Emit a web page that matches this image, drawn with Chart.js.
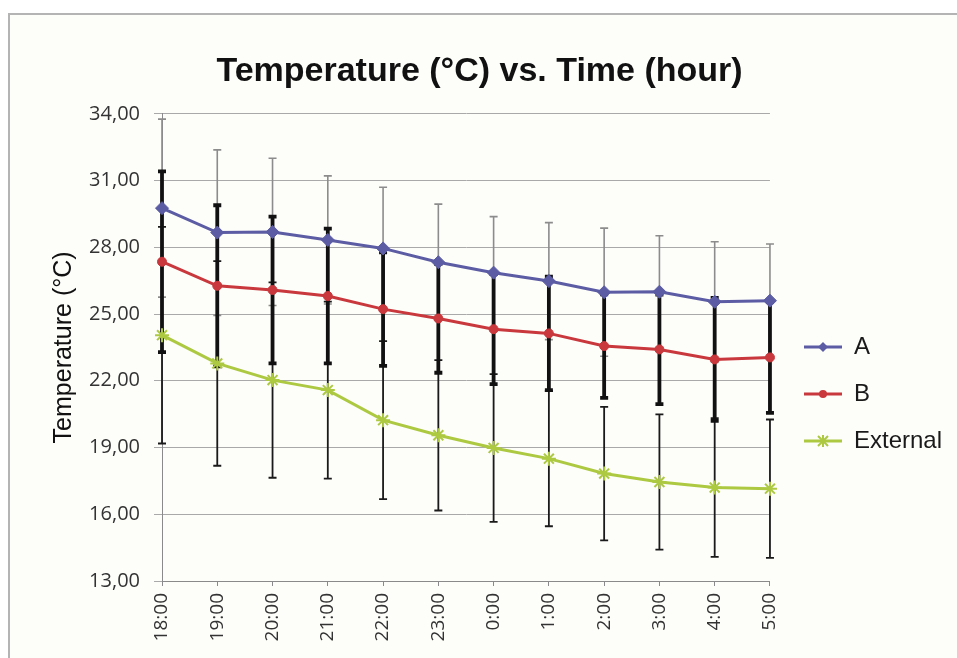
<!DOCTYPE html>
<html>
<head>
<meta charset="utf-8">
<script src="https://cdn.jsdelivr.net/npm/chart.js@4/dist/chart.umd.min.js"></script>
<style>
  html, body { margin: 0; padding: 0; background: #ffffff; }
  #frame { position: absolute; left: 8px; top: 13px; width: 949px; height: 645px;
           border-left: 2px solid #b4b4b4; border-top: 2px solid #b4b4b4; background: #fdfdfa; box-sizing: border-box; }
  #wrap { position: absolute; left: 0; top: 0; width: 957px; height: 658px; }
</style>
</head>
<body>
<div id="frame"></div>
<div id="wrap"><canvas id="c" width="957" height="658"></canvas></div>
<script>
// ---- data ----
const timeLabels = ['18:00','19:00','20:00','21:00','22:00','23:00','0:00','1:00','2:00','3:00','4:00','5:00'];
const seriesA   = [29.76, 28.66, 28.69, 28.33, 27.95, 27.33, 26.86, 26.48, 25.98, 26.00, 25.55, 25.60];
const seriesB   = [27.35, 26.27, 26.08, 25.81, 25.22, 24.80, 24.32, 24.13, 23.56, 23.41, 22.96, 23.05];
const seriesExt = [24.05, 22.78, 22.03, 21.58, 20.23, 19.55, 18.98, 18.50, 17.83, 17.45, 17.20, 17.15];
const errA   = [4.00, 3.72, 3.31, 2.88, 2.75, 2.61, 2.52, 2.63, 2.88, 2.52, 2.70, 2.55];
const errB   = [4.06, 3.62, 3.30, 3.03, 2.55, 2.44, 2.47, 2.55, 2.33, 2.46, 2.76, 2.49];
const errExt = [4.87, 4.60, 4.39, 3.98, 3.55, 3.38, 3.32, 3.04, 3.00, 3.04, 3.12, 3.11];
const seriesNames = ['A', 'B', 'External'];
const yMin = 13, yMax = 34, yStep = 3;

const colA = '#5b5ca3', colB = '#c9383c', colExt = '#acc941';

function legendIcon(color, style) {
  const c = document.createElement('canvas');
  c.width = 49; c.height = 16;
  const g = c.getContext('2d');
  g.strokeStyle = color; g.fillStyle = color; g.lineWidth = 3;
  g.beginPath(); g.moveTo(11, 8); g.lineTo(49, 8); g.stroke();
  const cx = 30, cy = 8;
  g.lineWidth = 2;
  if (style === 'diamond') {
    g.beginPath(); g.moveTo(cx, cy - 5); g.lineTo(cx + 5, cy); g.lineTo(cx, cy + 5); g.lineTo(cx - 5, cy); g.closePath(); g.fill();
  } else if (style === 'circle') {
    g.beginPath(); g.arc(cx, cy, 4, 0, Math.PI * 2); g.fill();
  } else {
    g.beginPath();
    g.moveTo(cx - 5, cy - 5); g.lineTo(cx + 5, cy + 5);
    g.moveTo(cx + 5, cy - 5); g.lineTo(cx - 5, cy + 5);
    g.moveTo(cx, cy - 6); g.lineTo(cx, cy + 6);
    g.stroke();
  }
  return c;
}
const legendIcons = [legendIcon(colA, 'diamond'), legendIcon(colB, 'circle'), legendIcon(colExt, 'star')];

const errorSets = [errA, errB, errExt];
const errStyles = [
  { color: '#8c8c8c', width: 1.6 },
  { color: '#111111', width: 3.8 },
  { color: '#1a1a1a', width: 1.8 }
];

const errorBarPlugin = {
  id: 'errorBars',
  beforeDatasetsDraw(chart) {
    const ctx = chart.ctx;
    const yScale = chart.scales.y;
    const order = [0, 2, 1];
    ctx.save();
    order.forEach(di => {
      const meta = chart.getDatasetMeta(di);
      const ds = chart.data.datasets[di];
      const errs = errorSets[di];
      const st = errStyles[di];
      ctx.strokeStyle = st.color;
      ctx.lineWidth = st.width;
      meta.data.forEach((pt, i) => {
        const v = ds.data[i], e = errs[i];
        const yt = yScale.getPixelForValue(v + e);
        const yb = yScale.getPixelForValue(v - e);
        const x = pt.x;
        ctx.beginPath();
        ctx.moveTo(x, yt); ctx.lineTo(x, yb);
        ctx.moveTo(x - 4, yt); ctx.lineTo(x + 4, yt);
        ctx.moveTo(x - 4, yb); ctx.lineTo(x + 4, yb);
        ctx.stroke();
      });
    });
    ctx.restore();
  }
};

const tickFont = { family: "'Open Sans', sans-serif", size: 20 };

new Chart(document.getElementById('c'), {
  type: 'line',
  data: {
    labels: timeLabels,
    datasets: [
      { label: seriesNames[0], data: seriesA, borderColor: colA, backgroundColor: colA,
        borderWidth: 3, pointStyle: 'rectRot', pointRadius: 6.5, pointBorderWidth: 1, tension: 0 },
      { label: seriesNames[1], data: seriesB, borderColor: colB, backgroundColor: colB,
        borderWidth: 3, pointStyle: 'circle', pointRadius: 4.5, pointBorderWidth: 1, tension: 0 },
      { label: seriesNames[2], data: seriesExt, borderColor: colExt, backgroundColor: colExt,
        borderWidth: 3, pointStyle: 'star', pointRadius: 7, pointBorderWidth: 2, tension: 0 }
    ]
  },
  options: {
    responsive: false,
    animation: false,
    devicePixelRatio: 1,
    layout: { padding: { left: 7, right: 5, top: 0, bottom: 0 } },
    plugins: {
      tooltip: { enabled: false },
      title: {
        display: true,
        text: 'Temperature (°C) vs. Time (hour)',
        color: '#111',
        font: { family: "'Liberation Sans', Arial, sans-serif", size: 34, weight: 'bold' },
        padding: { top: 51, bottom: 22 }
      },
      legend: {
        position: 'right',
        fullSize: false,
        align: 'center',
        title: { display: true, text: '', font: { size: 1 }, padding: { top: 92, bottom: 0 } },
        labels: {
          usePointStyle: true,
          pointStyleWidth: 49,
          boxHeight: 16,
          padding: 23,
          color: '#1a1a1a',
          font: { family: "'Liberation Sans', Arial, sans-serif", size: 24 },
          generateLabels(chart) {
            const items = Chart.defaults.plugins.legend.labels.generateLabels(chart);
            items.forEach((it, i) => { it.pointStyle = legendIcons[i]; it.rotation = 0; });
            return items;
          }
        }
      }
    },
    scales: {
      x: {
        type: 'category',
        offset: false,
        grid: { display: true, drawOnChartArea: false, drawTicks: true, tickLength: 5, color: '#8a8a8a' },
        border: { display: true, color: '#8a8a8a', width: 1 },
        ticks: { maxRotation: 90, minRotation: 90, padding: 7, color: '#333', font: { family: "'Open Sans', sans-serif", size: 19 }, autoSkip: false },
        afterFit(scale) { scale.height = 77; }
      },
      y: {
        min: yMin, max: yMax,
        ticks: {
          stepSize: yStep, padding: 14, color: '#333', font: tickFont,
          callback: (v) => Number(v).toFixed(2).replace('.', ',')
        },
        grid: { color: '#a9a9a9', lineWidth: 1, tickLength: 8, drawTicks: true },
        border: { display: true, color: '#8a8a8a', width: 1 },
        title: {
          display: true,
          text: 'Temperature (°C)',
          color: '#111',
          font: { family: "'Liberation Sans', Arial, sans-serif", size: 25 },
          padding: { top: 42, bottom: 0 }
        },
        afterFit(scale) { scale.width = 155; }
      }
    }
  },
  plugins: [errorBarPlugin]
});
</script>
</body>
</html>
